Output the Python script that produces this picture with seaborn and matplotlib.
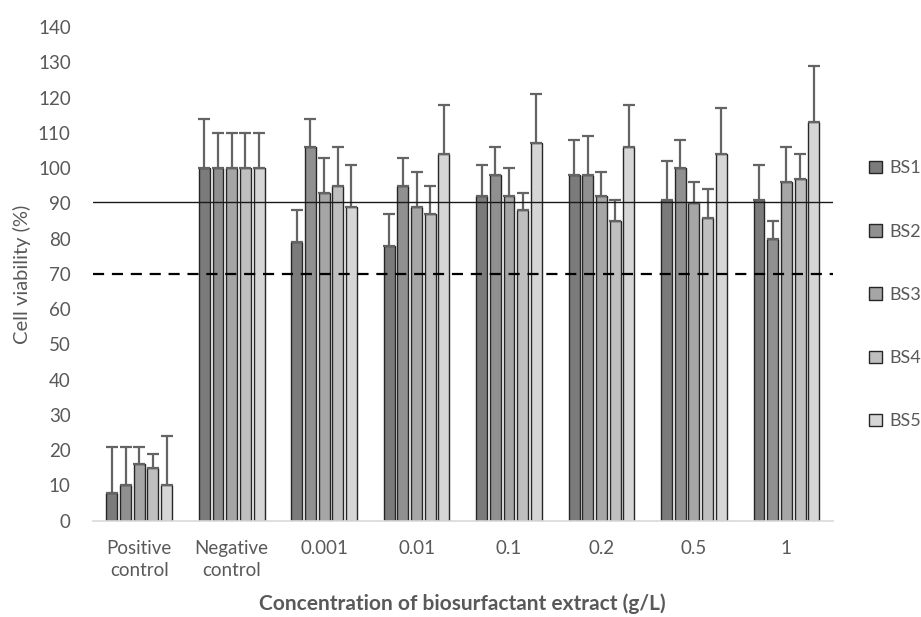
import numpy as np
import pandas as pd
import matplotlib
matplotlib.use("Agg")
import matplotlib.pyplot as plt
import seaborn as sns

#%% data
categories = ["Positive\ncontrol", "Negative\ncontrol", "0.001", "0.01", "0.1", "0.2", "0.5", "1"]
series = ["BS1", "BS2", "BS3", "BS4", "BS5"]

bs1 = [8, 100, 79, 78, 92, 98, 91, 91]
bs2 = [10, 100, 106, 95, 98, 98, 100, 80]
bs3 = [16, 100, 93, 89, 92, 92, 90, 96]
bs4 = [15, 100, 95, 87, 88, 85, 86, 97]
bs5 = [10, 100, 89, 104, 107, 106, 104, 113]

# upper error (only the plus side is drawn)
err1 = [13, 14, 9, 9, 9, 10, 11, 10]
err2 = [11, 10, 8, 8, 8, 11, 8, 5]
err3 = [5, 10, 10, 10, 8, 7, 6, 10]
err4 = [4, 10, 11, 8, 5, 6, 8, 7]
err5 = [14, 10, 12, 14, 14, 12, 13, 16]

threshold_solid = 90.5
threshold_dashed = 70

colors = ["#7b7b7b", "#909090", "#a6a6a6", "#bfbfbf", "#d6d6d6"]

#%% build long table
values = [bs1, bs2, bs3, bs4, bs5]
errors = [err1, err2, err3, err4, err5]
rows = []
for s, vals in zip(series, values):
    for c, v in zip(categories, vals):
        rows.append({"Concentration": c, "Series": s, "Viability": v})
df = pd.DataFrame(rows)

#%% plot
sns.set_style("white")
plt.rcParams['font.family'] = ['Lato', 'DejaVu Sans']
text_col = "#595959"

fig = plt.figure(figsize=(9.21, 6.17), dpi=100)
ax = fig.add_axes([0.101, 0.156, 0.803, 0.80])

sns.barplot(data=df, x="Concentration", y="Viability", hue="Series",
            order=categories, hue_order=series, palette=colors,
            errorbar=None, width=0.74, gap=0.2, edgecolor="#262626",
            linewidth=1.0, saturation=1, ax=ax)

for cont, err in zip(ax.containers, errors):
    xs = [b.get_x() + b.get_width() / 2 for b in cont]
    hs = [b.get_height() for b in cont]
    ax.errorbar(xs, hs, yerr=[np.zeros(len(err)), err], fmt="none",
                ecolor="#646464", elinewidth=1.6, capsize=4.5, capthick=1.6, zorder=1)

ax.axhline(threshold_solid, color="#1a1a1a", lw=1.0, zorder=3)
ax.axhline(threshold_dashed, color="#000000", lw=1.6, ls=(0, (5, 3.5)), zorder=3)

ax.set_ylim(0, 140)
ax.set_xlim(-0.5, len(categories) - 0.5)
ax.set_yticks(range(0, 141, 10))
ax.tick_params(axis="both", labelsize=13.5, colors=text_col, length=0)
ax.tick_params(axis="x", pad=14)
ax.tick_params(axis="y", pad=16)
for lbl in ax.get_xticklabels():
    lbl.set_linespacing(1.35)
for sp in ["top", "right", "left"]:
    ax.spines[sp].set_visible(False)
ax.spines["bottom"].set_color("#d9d9d9")
ax.spines["bottom"].set_linewidth(1.2)

ax.set_ylabel("Cell viability (%)", fontsize=14.5, color=text_col, labelpad=5)
ax.set_xlabel("Concentration of biosurfactant extract (g/L)", fontsize=15,
              fontweight="bold", color=text_col, labelpad=10)

leg = ax.legend(loc="upper left", bbox_to_anchor=(1.04, 0.745), frameon=False,
                fontsize=13, labelspacing=2.62, handlelength=0.7, handleheight=0.7,
                handletextpad=0.4, borderaxespad=0)
for t in leg.get_texts():
    t.set_color(text_col)

plt.savefig("out.png", dpi=100)
